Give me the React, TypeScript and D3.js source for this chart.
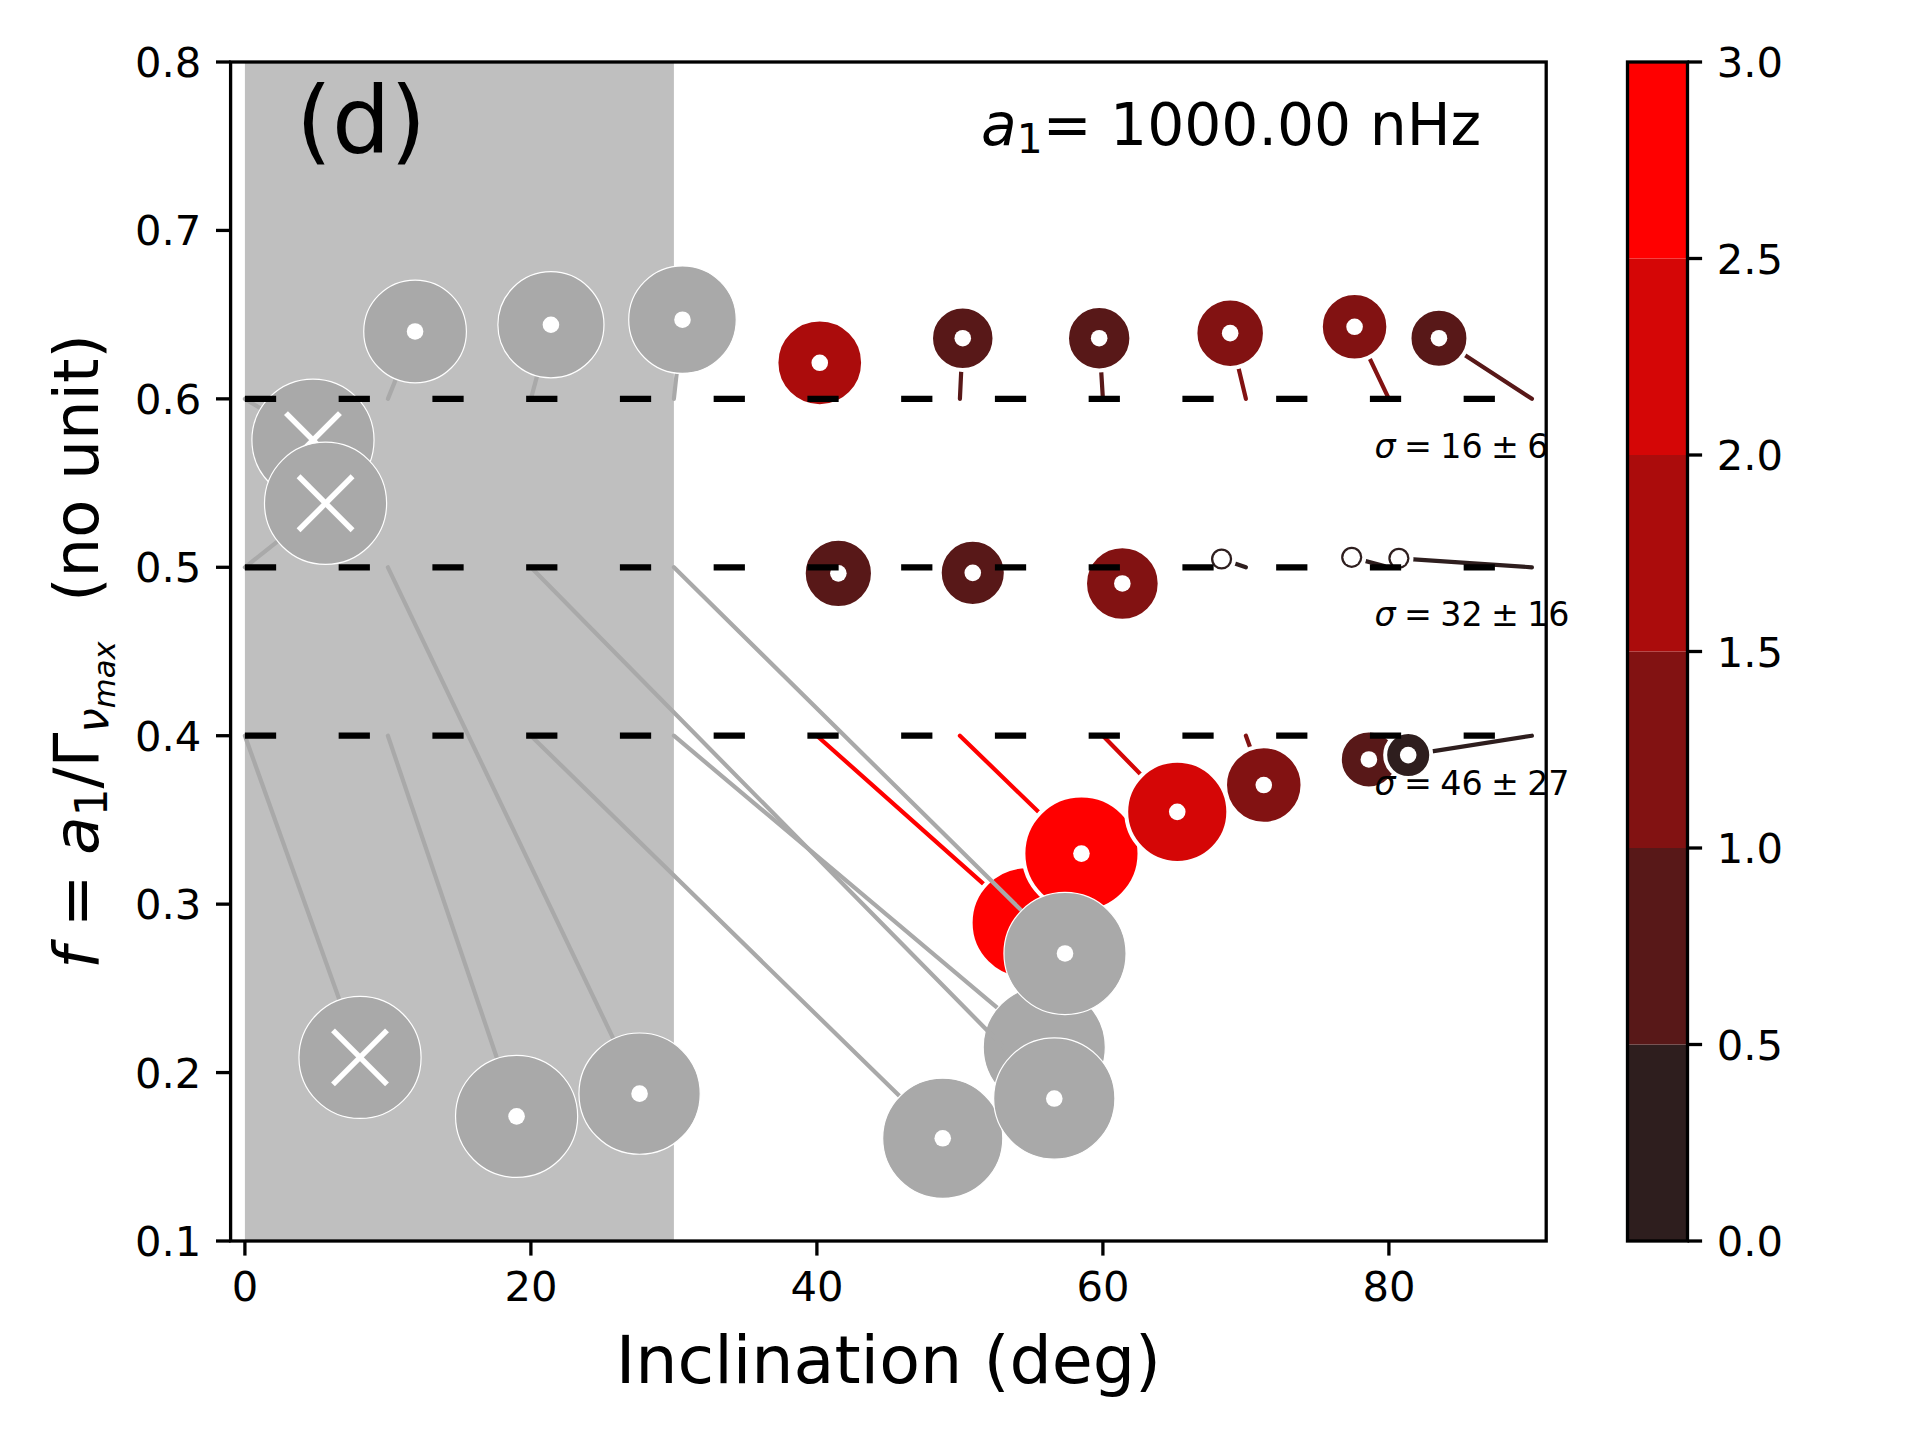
import React, { useEffect, useRef } from 'react';
import * as d3 from 'd3';

// simulated stars: true inclination / true f, and the fitted values
// (listed in the order they are drawn)
const trueInc = [40, 40, 40, 50, 50, 50, 60, 60, 60, 70, 70, 70, 80, 80, 80, 90, 90, 90, 0, 0, 0, 10, 10, 10, 20, 20, 30, 30, 20, 30];
const trueF = [0.6, 0.5, 0.4, 0.6, 0.5, 0.4, 0.6, 0.5, 0.4, 0.6, 0.5, 0.4, 0.6, 0.5, 0.4, 0.6, 0.5, 0.4, 0.6, 0.5, 0.4, 0.6, 0.5, 0.4, 0.6, 0.4, 0.6, 0.4, 0.5, 0.5];
const fitInc = [40.2, 41.5, 54.7, 50.2, 50.9, 58.5, 59.74, 61.36, 65.2, 68.9, 68.3, 71.25, 77.6, 77.4, 78.6, 83.5, 80.7, 81.35, 4.76, 5.64, 8.05, 11.9, 27.6, 19.0, 21.4, 48.8, 30.6, 55.9, 56.6, 57.35];
const fitF = [0.6214, 0.4964, 0.289, 0.636, 0.4967, 0.33, 0.636, 0.4904, 0.3548, 0.639, 0.5049, 0.3707, 0.6428, 0.5059, 0.3859, 0.636, 0.5053, 0.3885, 0.5755, 0.538, 0.209, 0.64, 0.1875, 0.174, 0.644, 0.161, 0.647, 0.215, 0.1846, 0.2707];
// inclination uncertainty (deg), drawn as the disc radius
const incErr = [3.03, 2.42, 3.95, 2.22, 2.31, 4.06, 2.25, 2.61, 3.57, 2.43, 0.88, 2.71, 2.36, 0.88, 2.03, 2.06, 0.88, 1.61, 4.27, 4.27, 4.27, 3.59, 4.24, 4.27, 3.71, 4.2, 3.76, 4.27, 4.24, 4.27];
// colour value (null = rejected, shown grey)
const colorVal: (number | null)[] = [1.75, 0.8, 2.8, 0.75, 0.75, 2.7, 0.8, 1.2, 2.2, 1.3, 0.2, 1.2, 1.2, 0.2, 0.8, 0.7, 0.2, 0.3, null, null, null, null, null, null, null, null, null, null, null, null];
// grey points whose fit failed (marked with a cross)
const failed = [false, false, false, false, false, false, false, false, false, false, false, false, false, false, false, false, false, false, true, true, true, false, false, false, false, false, false, false, false, false];

const refF = [0.6, 0.5, 0.4];
const sigmaLabels = ['16 \u00b1 6', '32 \u00b1 16', '46 \u00b1 27'];
const xTicks = [0, 20, 40, 60, 80];
const yTicks = [0.1, 0.2, 0.3, 0.4, 0.5, 0.6, 0.7, 0.8];
const cbarTicks = [0, 0.5, 1, 1.5, 2, 2.5, 3];

const FONT = 'DejaVu Sans';

const App: React.FC = () => {
  const svgRef = useRef<SVGSVGElement>(null);

  useEffect(() => {
    if (!svgRef.current) return;
    const svg = d3.select(svgRef.current);
    svg.selectAll('*').remove();

    const left = 230.6, right = 1546.2, top = 62, bottom = 1241;
    const x = d3.scaleLinear().domain([-1, 91]).range([left, right]);
    const y = d3.scaleLinear().domain([0.1, 0.8]).range([bottom, top]);

    const interp = d3.interpolateRgb('#2e1e1e', '#ff0000');
    const levels = d3.range(6).map(i => interp(i / 5));
    const color = d3.scaleQuantize<string>().domain([0, 3]).range(levels);
    const grey = '#a9a9a9';

    svg.append('rect').attr('width', 1920).attr('height', 1440).attr('fill', '#fff');

    // shaded excluded region
    svg.append('rect')
      .attr('x', x(0)).attr('y', top)
      .attr('width', x(30) - x(0)).attr('height', bottom - top)
      .attr('fill', '#bfbfbf');

    const g = svg.append('g');

    d3.range(trueInc.length).forEach(i => {
      const c = colorVal[i] === null ? grey : color(colorVal[i] as number);
      const cx = x(fitInc[i]);
      const cy = y(fitF[i]);
      const r = x(incErr[i]) - x(0);

      g.append('line')
        .attr('x1', x(trueInc[i])).attr('y1', y(trueF[i]))
        .attr('x2', cx).attr('y2', cy)
        .attr('stroke', c)
        .attr('stroke-width', 4.2)
        .attr('stroke-linecap', 'round');

      g.append('circle')
        .attr('cx', cx).attr('cy', cy).attr('r', r)
        .attr('fill', c)
        .attr('stroke', '#fff')
        .attr('stroke-width', colorVal[i] === null ? 1.2 : 4);

      if (failed[i]) {
        const s = 27;
        [[-s, -s, s, s], [-s, s, s, -s]].forEach(([a, b, c2, d]) => {
          g.append('line')
            .attr('x1', cx + a).attr('y1', cy + b)
            .attr('x2', cx + c2).attr('y2', cy + d)
            .attr('stroke', '#fff')
            .attr('stroke-width', 5.5);
        });
      } else {
        g.append('circle')
          .attr('cx', cx).attr('cy', cy).attr('r', 8.3)
          .attr('fill', '#fff');
      }
    });

    // reference f lines
    refF.forEach(f => {
      svg.append('line')
        .attr('x1', x(0)).attr('x2', x(90))
        .attr('y1', y(f)).attr('y2', y(f))
        .attr('stroke', '#000')
        .attr('stroke-width', 6.25)
        .attr('stroke-dasharray', '31.25 62.5');
    });

    // sigma annotations
    refF.forEach((f, k) => {
      const t = svg.append('text')
        .attr('x', x(79)).attr('y', y(f - 0.035))
        .attr('font-family', FONT)
        .attr('font-size', 33.3)
        .style('white-space', 'pre');
      t.append('tspan').attr('font-style', 'italic').text('\u03c3');
      t.append('tspan').text('\u2005=\u2005' + sigmaLabels[k].replace(/ /g, '\u2005'));
    });

    // axes frame
    svg.append('rect')
      .attr('x', left).attr('y', top)
      .attr('width', right - left).attr('height', bottom - top)
      .attr('fill', 'none').attr('stroke', '#000').attr('stroke-width', 3.3);

    // x ticks
    xTicks.forEach(v => {
      svg.append('line')
        .attr('x1', x(v)).attr('x2', x(v))
        .attr('y1', bottom).attr('y2', bottom + 14.6)
        .attr('stroke', '#000').attr('stroke-width', 3.3);
      svg.append('text')
        .attr('x', x(v)).attr('y', bottom + 60)
        .attr('text-anchor', 'middle')
        .attr('font-family', FONT).attr('font-size', 41.7)
        .text(String(v));
    });

    // y ticks
    yTicks.forEach(v => {
      svg.append('line')
        .attr('x1', left - 14.6).attr('x2', left)
        .attr('y1', y(v)).attr('y2', y(v))
        .attr('stroke', '#000').attr('stroke-width', 3.3);
      svg.append('text')
        .attr('x', left - 29.2).attr('y', y(v))
        .attr('dy', '0.36em')
        .attr('text-anchor', 'end')
        .attr('font-family', FONT).attr('font-size', 41.7)
        .text(v.toFixed(1));
    });

    // axis labels
    svg.append('text')
      .attr('x', (left + right) / 2).attr('y', 1383)
      .attr('text-anchor', 'middle')
      .attr('font-family', FONT).attr('font-size', 66.7)
      .text('Inclination (deg)');

    const yl = svg.append('text')
      .attr('transform', `translate(98,${(top + bottom) / 2}) rotate(-90)`)
      .attr('text-anchor', 'middle')
      .attr('font-family', FONT).attr('font-size', 62.5)
      .style('white-space', 'pre');
    yl.append('tspan').attr('font-style', 'italic').text('f');
    yl.append('tspan').text(' = ');
    yl.append('tspan').attr('font-style', 'italic').text('a');
    yl.append('tspan').attr('font-size', 43.75).attr('dy', 9).text('1');
    yl.append('tspan').attr('dy', -9).text('/\u0393');
    yl.append('tspan').attr('font-style', 'italic').attr('font-size', 43.75).attr('dy', 10).text('\u03bd');
    yl.append('tspan').attr('font-style', 'italic').attr('font-size', 30.6).attr('dy', 7).text('max');
    yl.append('tspan').attr('dy', -17).text('  (no unit)');

    // panel label and a1 annotation
    svg.append('text')
      .attr('x', 296).attr('y', 153)
      .attr('font-family', FONT).attr('font-size', 92)
      .text('(d)');

    const a1 = svg.append('text')
      .attr('x', 981).attr('y', 145)
      .attr('font-family', FONT).attr('font-size', 58.3)
      .style('white-space', 'pre');
    a1.append('tspan').attr('font-style', 'italic').text('a');
    a1.append('tspan').attr('font-size', 40.8).attr('dy', 8).text('1');
    a1.append('tspan').attr('dy', -8).text('= 1000.00 nHz');

    // colour bar
    const cbL = 1627.5, cbR = 1687.5;
    const cy = d3.scaleLinear().domain([0, 3]).range([bottom, top]);
    levels.forEach((col, i) => {
      const v0 = i * 0.5, v1 = (i + 1) * 0.5;
      svg.append('rect')
        .attr('x', cbL).attr('y', cy(v1))
        .attr('width', cbR - cbL).attr('height', cy(v0) - cy(v1))
        .attr('fill', col);
    });
    svg.append('rect')
      .attr('x', cbL).attr('y', top)
      .attr('width', cbR - cbL).attr('height', bottom - top)
      .attr('fill', 'none').attr('stroke', '#000').attr('stroke-width', 3.3);
    cbarTicks.forEach(v => {
      svg.append('line')
        .attr('x1', cbR).attr('x2', cbR + 14.6)
        .attr('y1', cy(v)).attr('y2', cy(v))
        .attr('stroke', '#000').attr('stroke-width', 3.3);
      svg.append('text')
        .attr('x', cbR + 29.2).attr('y', cy(v))
        .attr('dy', '0.36em')
        .attr('font-family', FONT).attr('font-size', 41.7)
        .text(v.toFixed(1));
    });
  }, []);

  return (
    <svg
      ref={svgRef}
      width={1920}
      height={1440}
      style={{ position: 'absolute', left: 0, top: 0 }}
    />
  );
};

export default App;
